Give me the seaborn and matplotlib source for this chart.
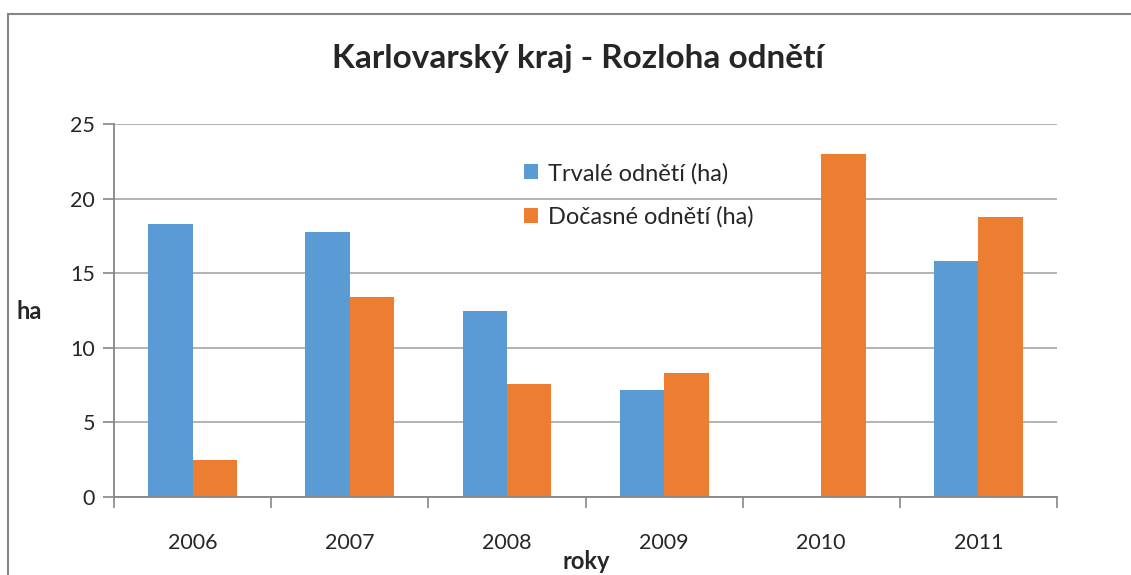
import matplotlib
matplotlib.use("Agg")
import matplotlib.pyplot as plt
import seaborn as sns
import pandas as pd
from matplotlib.patches import Rectangle

years = ["2006", "2007", "2008", "2009", "2010", "2011"]
trvale = [18.3, 17.75, 12.45, 7.15, 0.0, 15.8]
docasne = [2.45, 13.4, 7.55, 8.3, 23.0, 18.75]
series_names = ["Trvalé odnětí (ha)", "Dočasné odnětí (ha)"]
colors = ["#5B9BD5", "#ED7D31"]

df = pd.DataFrame({
    "rok": years * 2,
    "hodnota": trvale + docasne,
    "serie": [series_names[0]] * len(years) + [series_names[1]] * len(years),
})

sns.set_theme(style="white")
plt.rcParams["font.family"] = ["Lato", "DejaVu Sans"]

fig = plt.figure(figsize=(11.31, 5.75), dpi=100)
ax = fig.add_axes([0.101, 0.136, 0.8335, 0.648])

sns.barplot(data=df, x="rok", y="hodnota", hue="serie", palette=colors,
            width=0.566, gap=0, saturation=1, ax=ax, edgecolor="none")

ax.set_ylim(0, 25)
ax.set_xlim(-0.5, len(years) - 0.5)
ax.set_yticks(range(0, 26, 5))
ax.yaxis.grid(True, color="#a6a6a6", linewidth=1.2)
ax.set_axisbelow(True)

for side in ["top", "right"]:
    ax.spines[side].set_visible(False)
for side in ["left", "bottom"]:
    ax.spines[side].set_color("#868686")
    ax.spines[side].set_linewidth(1.3)

ax.tick_params(axis="y", which="major", length=8, color="#868686", width=1.2,
               labelsize=15.5, pad=6, left=True)
ax.set_xticks([i - 0.5 for i in range(len(years) + 1)], minor=True)
ax.tick_params(axis="x", which="minor", length=8, color="#868686", width=1.2, bottom=True)
ax.tick_params(axis="x", which="major", length=0, labelsize=15.5, pad=26)

ax.set_xlabel("")
ax.set_ylabel("")
fig.text(0.518, 0.0104, "roky", fontsize=17, fontweight="bold", ha="center", va="baseline")
fig.text(0.0256, 0.445, "ha", fontsize=17, fontweight="bold", ha="center", va="baseline")
fig.text(0.511, 0.8817, "Karlovarský kraj - Rozloha odnětí", fontsize=24,
         fontweight="bold", ha="center", va="baseline")

ax.legend(loc="upper left", bbox_to_anchor=(0.435, 0.897), frameon=False,
          fontsize=17, handlelength=0.6, handleheight=0.6, handletextpad=0.4,
          labelspacing=0.95, borderpad=0, borderaxespad=0)

fig.patches.append(Rectangle((0.007, -0.1), 1.2, 1.076, transform=fig.transFigure,
                             fill=False, edgecolor="#868686", linewidth=1.5))

fig.savefig("out.png", dpi=100)
